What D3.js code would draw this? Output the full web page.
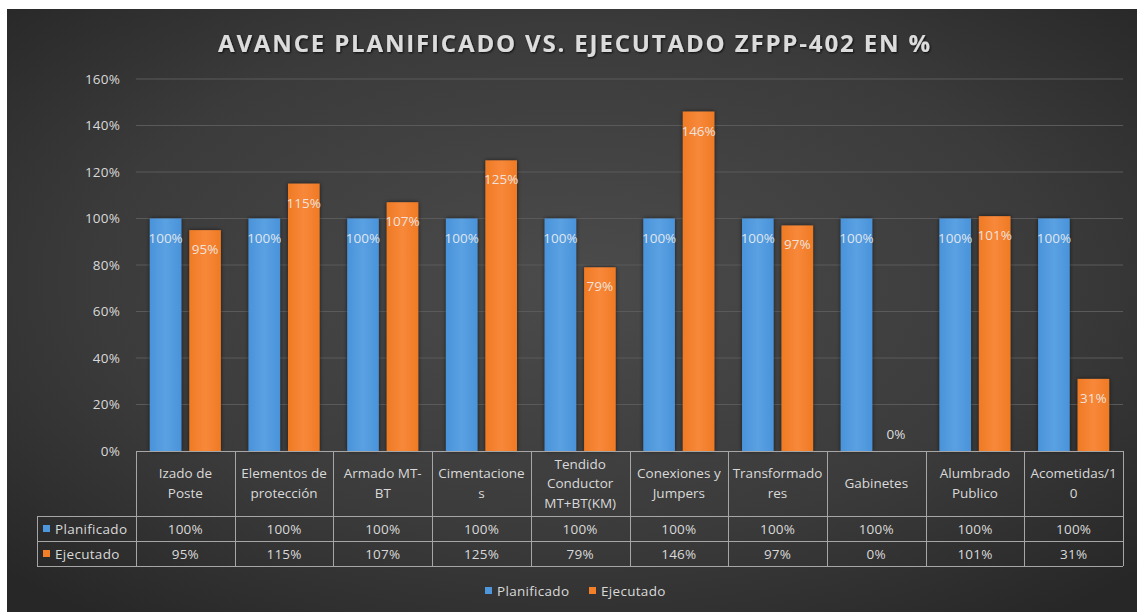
<!DOCTYPE html>
<html>
<head>
<meta charset="utf-8">
<script src="https://cdn.jsdelivr.net/npm/d3@7"></script>
<style>
  html, body { margin: 0; padding: 0; background: #ffffff; }
  svg { display: block; }
</style>
</head>
<body>
<svg id="chart" width="1137" height="612"></svg>
<script>
const categories = [
  "Izado de\nPoste",
  "Elementos de\nprotección",
  "Armado MT-\nBT",
  "Cimentacione\ns",
  "Tendido\nConductor\nMT+BT(KM)",
  "Conexiones y\nJumpers",
  "Transformado\nres",
  "Gabinetes",
  "Alumbrado\nPublico",
  "Acometidas/1\n0"
];
const seriesNames = ["Planificado", "Ejecutado"];
const planificado = [1.00, 1.00, 1.00, 1.00, 1.00, 1.00, 1.00, 1.00, 1.00, 1.00];
const ejecutado   = [0.95, 1.15, 1.07, 1.25, 0.79, 1.46, 0.97, 0.00, 1.01, 0.31];
const yTicks = [0, 0.2, 0.4, 0.6, 0.8, 1.0, 1.2, 1.4, 1.6];
const title = "AVANCE PLANIFICADO VS. EJECUTADO ZFPP-402 EN %";

const seriesValues = [planificado, ejecutado];
const colors = ["#4f97dc", "#f47f29"];
const W = 1137, H = 612;
const svg = d3.select("#chart");
const FONT = "'Open Sans', 'Liberation Sans', sans-serif";
const FS = 13.5;
const LS = "0.2px";
const TXT = "#d9d9d9";
const fmt = d3.format(".0%");

// defs
const defs = svg.append("defs");
const bg = defs.append("radialGradient").attr("id", "bg")
  .attr("cx", "50%").attr("cy", "45%").attr("r", "70%");
bg.append("stop").attr("offset", "0%").attr("stop-color", "#4b4b4b");
bg.append("stop").attr("offset", "60%").attr("stop-color", "#3b3b3b");
bg.append("stop").attr("offset", "100%").attr("stop-color", "#272727");
const shadow = defs.append("filter").attr("id", "sh").attr("x", "-20%").attr("y", "-20%").attr("width", "140%").attr("height", "140%");
shadow.append("feDropShadow").attr("dx", 0).attr("dy", 0).attr("stdDeviation", 2)
  .attr("flood-color", "#000").attr("flood-opacity", 0.6);
const tshadow = defs.append("filter").attr("id", "tsh").attr("x", "-5%").attr("y", "-30%").attr("width", "110%").attr("height", "160%");
tshadow.append("feDropShadow").attr("dx", 1).attr("dy", 1).attr("stdDeviation", 1)
  .attr("flood-color", "#000").attr("flood-opacity", 0.8);
const blueG = defs.append("linearGradient").attr("id", "gb").attr("x1", 0).attr("x2", 1).attr("y1", 0).attr("y2", 0);
blueG.append("stop").attr("offset", "0%").attr("stop-color", "#4a93da");
blueG.append("stop").attr("offset", "50%").attr("stop-color", "#5aa1e2");
blueG.append("stop").attr("offset", "100%").attr("stop-color", "#4a93da");
const orG = defs.append("linearGradient").attr("id", "go").attr("x1", 0).attr("x2", 1).attr("y1", 0).attr("y2", 0);
orG.append("stop").attr("offset", "0%").attr("stop-color", "#ef7a24");
orG.append("stop").attr("offset", "50%").attr("stop-color", "#f8883a");
orG.append("stop").attr("offset", "100%").attr("stop-color", "#ef7a24");
const fills = ["url(#gb)", "url(#go)"];

// background
svg.append("rect").attr("x", 7).attr("y", 9).attr("width", W - 7).attr("height", H - 9).attr("fill", "url(#bg)");

// title
svg.append("text")
  .attr("x", 574).attr("y", 52)
  .attr("text-anchor", "middle")
  .attr("font-family", FONT).attr("font-weight", "bold").attr("font-size", 24)
  .attr("fill", "#dcdcdc")
  .attr("textLength", 712).attr("lengthAdjust", "spacing")
  .attr("filter", "url(#tsh)")
  .text(title);

// scales
const plotLeft = 136, plotRight = 1123;
const y = d3.scaleLinear().domain([0, 1.6]).range([451, 79]);
const x0 = d3.scaleBand().domain(d3.range(categories.length)).range([plotLeft, plotRight]).padding(0);
const bw = x0.bandwidth();
const x1 = d3.scaleBand().domain(seriesNames).range([bw * 0.14, bw * 0.86]).paddingInner(0.2);

// gridlines
svg.append("g").selectAll("line").data(yTicks.filter(t => t > 0)).join("line")
  .attr("x1", plotLeft).attr("x2", plotRight)
  .attr("y1", d => y(d)).attr("y2", d => y(d))
  .attr("stroke", "#5a5a5a").attr("stroke-width", 1);

// y axis
const yAxis = d3.axisLeft(y).tickValues(yTicks).tickFormat(fmt).tickSize(0).tickPadding(16);
const yg = svg.append("g").attr("transform", `translate(${plotLeft},0)`).call(yAxis);
yg.select(".domain").remove();
yg.selectAll("text").attr("font-family", FONT).attr("font-size", FS).attr("fill", TXT)
  .attr("letter-spacing", LS);

// bars
const groups = svg.append("g").selectAll("g").data(categories).join("g")
  .attr("transform", (d, i) => `translate(${x0(i)},0)`);
seriesNames.forEach((s, si) => {
  groups.append("rect")
    .attr("x", x1(s)).attr("width", x1.bandwidth())
    .attr("y", (d, i) => y(seriesValues[si][i]))
    .attr("height", (d, i) => y(0) - y(seriesValues[si][i]))
    .attr("fill", fills[si])
    .attr("filter", "url(#sh)");
});
// data labels
seriesNames.forEach((s, si) => {
  groups.append("text")
    .attr("x", x1(s) + x1.bandwidth() / 2)
    .attr("y", (d, i) => {
      const v = seriesValues[si][i];
      return v === 0 ? y(0) - 12 : y(v) + 24;
    })
    .attr("text-anchor", "middle")
    .attr("font-family", FONT).attr("font-size", FS)
    .attr("letter-spacing", "0px")
    .attr("fill", "#f0f0f0").attr("fill-opacity", 0.9)
    .text((d, i) => fmt(seriesValues[si][i]));
});

// data table
const tableTop = 451, headBottom = 516, row1Bottom = 541, row2Bottom = 566, rowLeft = 37;
const lineColor = "#a6a6a6";
const tg = svg.append("g").attr("stroke", lineColor).attr("stroke-width", 1).attr("fill", "none");
tg.append("line").attr("x1", plotLeft).attr("x2", plotRight).attr("y1", tableTop + 0.5).attr("y2", tableTop + 0.5);
[headBottom, row1Bottom, row2Bottom].forEach(yy => {
  tg.append("line").attr("x1", rowLeft).attr("x2", plotRight).attr("y1", yy + 0.5).attr("y2", yy + 0.5);
});
tg.append("line").attr("x1", rowLeft + 0.5).attr("x2", rowLeft + 0.5).attr("y1", headBottom).attr("y2", row2Bottom);
d3.range(categories.length + 1).forEach(i => {
  const xx = Math.round(plotLeft + i * bw) + 0.5;
  tg.append("line").attr("x1", xx).attr("x2", xx).attr("y1", tableTop).attr("y2", row2Bottom);
});

// header text
const hg = svg.append("g").attr("font-family", FONT).attr("font-size", FS).attr("fill", TXT).attr("text-anchor", "middle");
categories.forEach((c, i) => {
  const lines = c.split("\n");
  const cx = x0(i) + bw / 2;
  const lh = 19.5;
  const startY = 483 - (lines.length - 1) * lh / 2 + 5;
  const t = hg.append("text").attr("x", cx).attr("y", startY).attr("letter-spacing", "0px");
  lines.forEach((ln, k) => {
    t.append("tspan").attr("x", cx).attr("dy", k === 0 ? 0 : lh).text(ln);
  });
});
// row values
const rowY = [529, 554];
seriesNames.forEach((s, si) => {
  categories.forEach((c, i) => {
    hg.append("text").attr("x", x0(i) + bw / 2).attr("y", rowY[si] + 5)
      .attr("letter-spacing", LS)
      .text(fmt(seriesValues[si][i]));
  });
  svg.append("rect").attr("x", 43).attr("y", rowY[si] - 4).attr("width", 7).attr("height", 7).attr("fill", colors[si]);
  svg.append("text").attr("x", 55).attr("y", rowY[si] + 5)
    .attr("font-family", FONT).attr("font-size", FS).attr("fill", TXT)
    .attr("letter-spacing", "0.3px")
    .text(s);
});

// legend
const legX = [485, 589];
seriesNames.forEach((s, si) => {
  svg.append("rect").attr("x", legX[si]).attr("y", 587).attr("width", 7).attr("height", 7).attr("fill", colors[si]);
  svg.append("text").attr("x", legX[si] + 12).attr("y", 595.5)
    .attr("font-family", FONT).attr("font-size", FS).attr("fill", TXT)
    .attr("letter-spacing", "0.3px")
    .text(s);
});
</script>
</body>
</html>
